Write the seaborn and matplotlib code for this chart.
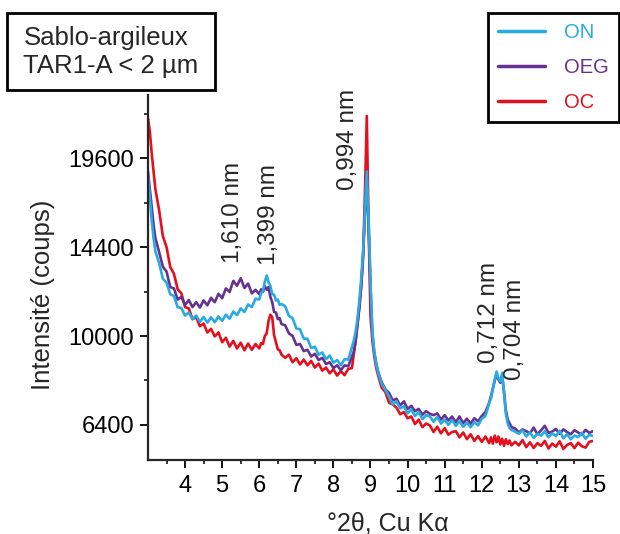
import numpy as np
import pandas as pd
import seaborn as sns
import matplotlib.pyplot as plt
from matplotlib.lines import Line2D
from matplotlib.patches import Rectangle

# XRD diffractograms, values (counts)
two_theta = [
    3.00, 3.05, 3.10, 3.15, 3.20,
    3.3, 3.4, 3.5, 3.6, 3.7, 3.8, 3.9, 4.0, 4.1, 4.2, 4.3, 4.4, 4.5, 4.6,
    4.7, 4.8, 4.9, 5.0, 5.1, 5.2, 5.3, 5.4, 5.5, 5.6, 5.7, 5.8, 5.9,
    6.00, 6.05, 6.10, 6.15, 6.20, 6.25, 6.30, 6.35, 6.40, 6.45, 6.50, 6.55, 6.60,
    6.7, 6.8, 6.9, 7.0, 7.1, 7.2, 7.3, 7.4, 7.5, 7.6, 7.7, 7.8, 7.9, 8.0,
    8.1, 8.2, 8.3, 8.4, 8.5,
    8.55, 8.60, 8.65, 8.70, 8.75, 8.80, 8.85, 8.90, 8.95, 9.00, 9.05, 9.10,
    9.15, 9.20, 9.25, 9.30,
    9.4, 9.5, 9.6, 9.7, 9.8, 9.9, 10.0, 10.1, 10.2, 10.3, 10.4, 10.5, 10.6,
    10.7, 10.8, 10.9, 11.0, 11.1, 11.2, 11.3, 11.4, 11.5, 11.6, 11.7, 11.8,
    11.9, 12.0, 12.1, 12.2,
    12.25, 12.30, 12.35, 12.40, 12.45, 12.50, 12.55, 12.60, 12.65, 12.70, 12.75, 12.80,
    12.9, 13.0, 13.1, 13.2, 13.3, 13.4, 13.5, 13.6, 13.7, 13.8, 13.9, 14.0,
    14.1, 14.2, 14.3, 14.4, 14.5, 14.6, 14.7, 14.8, 14.9, 15.0,
]

counts_oc = [
    22200, 21300, 19900, 18770, 17690,
    16461, 15006, 14400, 13340, 12996, 12210, 12012, 11342, 11278, 10774, 10858, 10445, 10568, 10161,
    10323, 9980, 10161, 9722, 9920, 9526, 9781, 9448, 9702, 9370, 9663, 9390, 9643,
    9448, 9683, 9643, 10000, 10120, 10692, 10983, 10858, 10040, 9722, 9409, 9370, 9178,
    9044, 9178, 8855, 9025, 8761, 8968, 8724, 8911, 8630, 8798, 8501, 8630, 8391, 8556,
    8299, 8482, 8317, 8575, 8612,
    9216, 9801, 10609, 11342, 12321, 13924, 17424, 22350, 15376, 10920, 9801, 9120,
    8649, 8336, 8064, 7815,
    7639, 7225, 7157, 7039, 6790, 6872, 6642, 6708, 6432, 6593, 6320, 6448, 6384,
    6147, 6336, 6100, 6288, 6053, 6147, 6178, 5960, 6131, 5898, 6068, 5837,
    6006, 5806, 5991, 5761,
    5960, 5746, 6022, 5791, 5991, 5715, 5914, 5670, 5898, 5730, 5852, 5685,
    5806, 5685, 5868, 5625, 5791, 5595, 5761, 5670, 5837, 5580, 5746, 5640,
    5822, 5565, 5700, 5761, 5595, 5776, 5655, 5610, 5806, 5837,
]

counts_oeg = [
    18770, 17690, 16640, 15625, 14880,
    14137, 13363, 13110, 12321, 12254, 11707, 11837, 11449, 11686, 11342, 11578, 11321, 11664, 11428,
    11794, 11578, 11990, 11772, 12254, 12078, 12634, 12388, 12769, 12277, 12499, 12012, 12188,
    11968, 12210, 12078, 12365, 12188, 12321, 11837, 11578, 11109, 11088, 10774, 10816, 10547,
    10486, 10120, 10000, 9604, 9643, 9332, 9390, 9101, 9216, 8949, 9044, 8780, 8855, 8612,
    8724, 8519, 8724, 8686, 9101,
    9312, 9801, 10506, 11342, 12432, 13924, 16129, 18360, 15625, 12321, 10100, 9312,
    8836, 8501, 8245, 8028,
    7744, 7604, 7310, 7379, 7123, 7276, 6989, 7106, 6906, 6989, 6773, 6906, 6806,
    6757, 6823, 6593, 6757, 6561, 6708, 6496, 6708, 6464, 6626, 6448, 6642,
    6529, 6724, 6872, 7225,
    7482, 7779, 8100, 8336, 8136, 8010, 8281, 7656, 6939, 6593, 6464, 6320,
    6273, 6131, 6241, 6178, 6100, 6304, 6068, 6209, 6368, 6115, 6162, 6257,
    6084, 6241, 6147, 6068, 6209, 6131, 6053, 6225, 6115, 6178,
]

counts_on = [
    18500, 17160, 15880, 14880, 14160,
    13549, 12746, 12544, 11968, 11881, 11342, 11300, 10941, 11088, 10774, 10941, 10650, 10878, 10609,
    10858, 10630, 10899, 10692, 10983, 10795, 11130, 10962, 11278, 11109, 11470, 11342, 11751,
    11707, 12034, 12122, 12589, 12905, 12566, 12388, 11968, 11946, 11664, 11707, 11449, 11492,
    11385, 10920, 10816, 10343, 10302, 9880, 9880, 9467, 9526, 9178, 9274, 8987, 9139, 8836,
    8949, 8724, 8987, 8968, 9506,
    9801, 10201, 10816, 11664, 12769, 14161, 16384, 18769, 15876, 12544, 10201, 9312,
    8798, 8464, 8190, 7957,
    7726, 7465, 7157, 7276, 7006, 7090, 6823, 6972, 6724, 6872, 6610, 6757, 6708,
    6512, 6691, 6448, 6593, 6400, 6577, 6368, 6529, 6336, 6480, 6320, 6496,
    6384, 6626, 6724, 7208,
    7396, 7744, 8154, 8464, 8190, 8064, 8409, 7569, 6806, 6448, 6288, 6225,
    6162, 6084, 6209, 5991, 6131, 5944, 6084, 6022, 6178, 5960, 6100, 6006,
    6194, 5929, 6068, 5898, 6022, 5975, 6115, 5914, 6053, 6006,
]

samples = ["ON", "OEG", "OC"]
colors = {"ON": "#29abe2", "OEG": "#66318f", "OC": "#e3101e"}

y_major = [6400, 10000, 14400, 19600]
y_minor = [8100, 12100, 16900, 22500]

peak_labels = ["1,610 nm", "1,399 nm", "0,994 nm", "0,712 nm", "0,704 nm"]
peak_x = [5.3, 6.25, 8.39, 12.19, 12.89]
peak_y = [13550, 13460, 17640, 8820, 8120]

df = pd.concat([
    pd.DataFrame({"two_theta": two_theta, "counts": counts_oc, "sample": "OC"}),
    pd.DataFrame({"two_theta": two_theta, "counts": counts_oeg, "sample": "OEG"}),
    pd.DataFrame({"two_theta": two_theta, "counts": counts_on, "sample": "ON"}),
])

sns.set_theme(style="ticks")
plt.rcParams["font.family"] = ["Liberation Sans", "DejaVu Sans"]

fig = plt.figure(figsize=(6.2, 5.34), dpi=100)
ax = fig.add_axes([148 / 620, 1 - 460 / 534, 445 / 620, 365 / 534])

sns.lineplot(data=df, x="two_theta", y="counts", hue="sample",
             hue_order=["OC", "OEG", "ON"], palette=colors,
             estimator=None, sort=False, linewidth=1.9, legend=False, ax=ax)

ax.set_yscale("function", functions=(lambda v: np.sqrt(np.clip(v, 0, None)), np.square))
ax.set_xlim(3, 15)
ax.set_ylim(5200, 23780)
ax.set_xticks(range(4, 16))
ax.set_xticks(np.arange(3.5, 15, 1.0), minor=True)
ax.set_yticks(y_major)
ax.set_yticks(y_minor, minor=True)
ax.set_yticklabels([str(v) for v in y_major])

sns.despine(ax=ax)
for side in ["left", "bottom"]:
    ax.spines[side].set_linewidth(1.6)
ax.tick_params(which="major", length=6, width=1.3, labelsize=17, colors="black")
ax.tick_params(axis="x", which="major", pad=5)
ax.tick_params(axis="y", which="major", pad=4)
ax.tick_params(which="minor", length=3, width=1.3)

ax.set_xlabel("°2θ, Cu Kα", fontsize=18)
ax.set_ylabel("Intensité (coups)", fontsize=18.5)
ax.xaxis.set_label_coords(0.539, -0.14)
ax.yaxis.set_label_coords(-0.21, 0.452)

for lab, px, py in zip(peak_labels, peak_x, peak_y):
    ax.text(px, py, lab, rotation=90, ha="center", va="bottom", fontsize=17.5)

# sample box, top left
fig.patches.append(Rectangle((7 / 620, 1 - 90 / 534), 208 / 620, 77 / 534,
                             transform=fig.transFigure, facecolor="white",
                             edgecolor="black", linewidth=2))
fig.text(111 / 620, 1 - 52 / 534, "Sablo-argileux\nTAR1-A < 2 µm",
         ha="center", va="center", multialignment="left", fontsize=18.5, linespacing=1.25)

handles = [Line2D([], [], color=colors[s], linewidth=2.5) for s in samples]
leg = fig.legend(handles, samples, loc="upper right", bbox_to_anchor=(619 / 620, 1 - 13 / 534),
                 frameon=True, fancybox=False, edgecolor="black", framealpha=1,
                 fontsize=14.5, handlelength=2.35, handletextpad=0.95, labelspacing=0.8,
                 borderpad=0.5, borderaxespad=0, labelcolor="linecolor")
leg.get_frame().set_linewidth(2)

fig.savefig("out.png", dpi=100)
